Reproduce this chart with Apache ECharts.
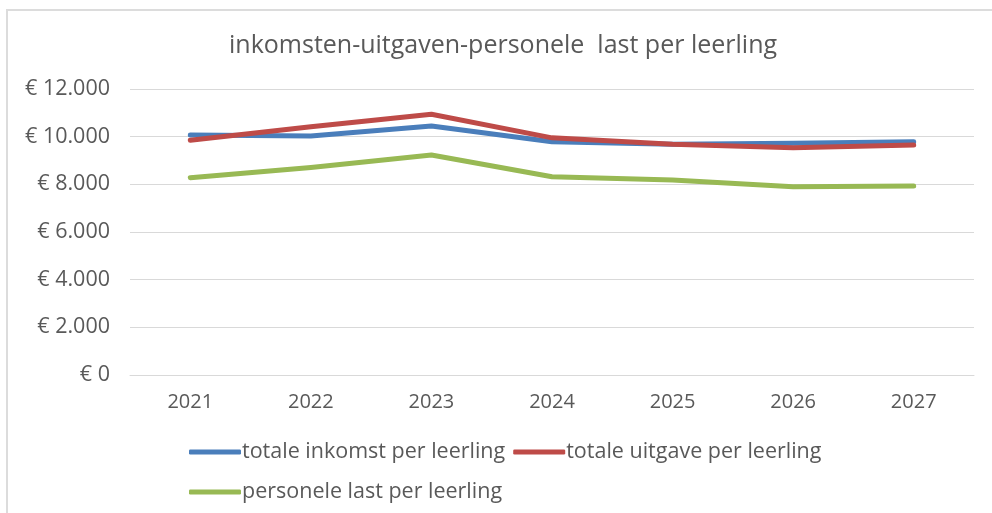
<!DOCTYPE html>
<html>
<head>
<meta charset="utf-8">
<script src="https://cdn.jsdelivr.net/npm/echarts@6/dist/echarts.min.js"></script>
<style>
  html, body { margin: 0; padding: 0; background: #fff; }
  #chart { width: 992px; height: 513px; }
</style>
</head>
<body>
<div id="chart"></div>
<script>
const years = ['2021', '2022', '2023', '2024', '2025', '2026', '2027'];
const inkomst = [10070, 10030, 10450, 9790, 9680, 9720, 9790];
const uitgave = [9850, 10420, 10940, 9950, 9680, 9540, 9650];
const personeel = [8280, 8710, 9230, 8320, 8180, 7900, 7930];
const seriesNames = ['totale inkomst per leerling', 'totale uitgave per leerling', 'personele last per leerling'];

const font = 'Open Sans';
const textColor = '#595959';

function euro(v) {
    return '€ ' + String(v).replace(/\B(?=(\d{3})+(?!\d))/g, '.');
}

const chart = echarts.init(document.getElementById('chart'));

function lineSeries(name, data, color) {
    return {
        name: name,
        type: 'line',
        data: data,
        symbol: 'none',
        lineStyle: { color: color, width: 5, cap: 'round', join: 'round' },
        itemStyle: { color: color }
    };
}

const legendBase = {
    left: 184,
    itemWidth: 52,
    itemHeight: 5,
    itemGap: 8,
    icon: 'roundRect',
    textStyle: { fontFamily: font, fontSize: 21.5, color: textColor, padding: [0, 0, 0, -4] }
};

chart.setOption({
    backgroundColor: '#fff',
    animation: false,
    title: {
        text: 'inkomsten-uitgaven-personele  last per leerling',
        left: 224,
        top: 28,
        textStyle: { fontFamily: font, fontSize: 25, fontWeight: 'normal', color: textColor }
    },
    graphic: [{
        type: 'rect',
        shape: { x: 7, y: 10, width: 1000, height: 520 },
        style: { fill: 'none', stroke: '#dcdcdc', lineWidth: 2 },
        silent: true
    }],
    legend: [
        Object.assign({}, legendBase, { data: [seriesNames[0], seriesNames[1]], top: 436 }),
        Object.assign({}, legendBase, { data: [seriesNames[2]], top: 476 })
    ],
    grid: { left: 130, right: 18, top: 89, bottom: 138 },
    xAxis: {
        type: 'category',
        data: years,
        boundaryGap: true,
        axisLine: { lineStyle: { color: '#d9d9d9', width: 1 } },
        axisTick: { show: false },
        axisLabel: { fontFamily: font, fontSize: 20, color: textColor, margin: 17 }
    },
    yAxis: {
        type: 'value',
        min: 0,
        max: 12000,
        interval: 2000,
        axisLine: { show: false },
        axisTick: { show: false },
        splitLine: { lineStyle: { color: '#d9d9d9', width: 1 } },
        axisLabel: {
            fontFamily: font, fontSize: 21.5, color: textColor, margin: 20,
            formatter: euro
        }
    },
    series: [
        lineSeries(seriesNames[0], inkomst, '#4a7ebb'),
        lineSeries(seriesNames[1], uitgave, '#be4b48'),
        lineSeries(seriesNames[2], personeel, '#98b954')
    ]
});
</script>
</body>
</html>
